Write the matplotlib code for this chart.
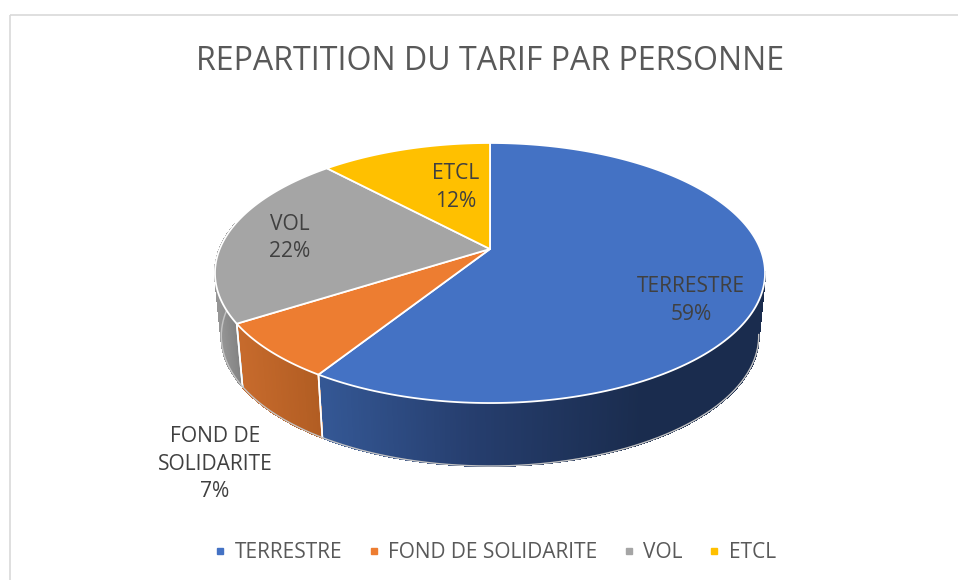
import matplotlib
matplotlib.use('Agg')
import matplotlib.pyplot as plt
import numpy as np
from matplotlib.lines import Line2D
from matplotlib.patches import Rectangle

categories = ['TERRESTRE', 'FOND DE SOLIDARITE', 'VOL', 'ETCL']
values = [59, 7, 22, 12]
label_text = ['TERRESTRE', 'FOND DE\nSOLIDARITE', 'VOL', 'ETCL']
title = 'REPARTITION DU TARIF PAR PERSONNE'

colors = ['#4472C4', '#ED7D31', '#A5A5A5', '#FFC000']
label_pos = [(691, 300.5), (215, 464), (289.5, 238), (456, 187.5)]
# couleur du flanc : (x, rgb) de gauche a droite
side_ramps = [
    ([325, 470, 640], [(52, 87, 148), (38, 62, 110), (26, 44, 78)]),
    ([243, 324], [(198, 106, 44), (176, 92, 34)]),
    ([216, 243], [(152, 152, 152), (126, 126, 126)]),
    ([0, 958], [(180, 135, 0), (180, 135, 0)]),
]

plt.rcParams['font.family'] = ['Open Sans', 'DejaVu Sans']

# camembert vu en perspective
cx, cy = 490, 249
rx, ry, k = 270.3, 125.6, 0.1846
depth = 63
shrink = 0.977


def rim(t, low=False):
    # t en radians, sens horaire depuis midi
    px, py = np.sin(t), np.cos(t)
    w = 1 + k * py
    sx = shrink if low else 1
    x = cx + sx * rx * px / w
    y = cy - ry * py / w + (depth if low else 0)
    return x, y


fig = plt.figure(figsize=(9.58, 5.8), dpi=100)
ax = fig.add_axes([0, 0, 1, 1])
ax.set_xlim(0, 958)
ax.set_ylim(580, 0)
ax.axis('off')

ax.add_patch(Rectangle((10, 14.5), 1000, 600, fc='none', ec='#D9D9D9', lw=1.2))

fractions = np.array(values) / sum(values)
edges = np.concatenate([[0], np.cumsum(fractions)]) * 2 * np.pi

# flancs
vis_a, vis_b = np.radians(100), np.radians(282)
for i in range(len(values)):
    a, b = max(edges[i], vis_a), min(edges[i + 1], vis_b)
    if a >= b:
        continue
    ts = np.linspace(a, b, int((b - a) * 120) + 2)
    xs_r, rgb = side_ramps[i]
    for t0, t1 in zip(ts[:-1], ts[1:]):
        x0, y0 = rim(t0)
        x1, y1 = rim(t1)
        x2, y2 = rim(t1, True)
        x3, y3 = rim(t0, True)
        xm = (x0 + x1 + x2 + x3) / 4
        c = [np.interp(xm, xs_r, [p[j] for p in rgb]) / 255 for j in range(3)]
        ax.fill([x0, x1, x2, x3], [y0, y1, y2, y3], fc=c, ec=c, lw=0.8,
                antialiased=False, zorder=1)
    for t in [edges[i], edges[i + 1]]:
        if vis_a < t < vis_b:
            xa, ya = rim(t)
            xb, yb = rim(t, True)
            ax.plot([xa, xb], [ya, yb], color='white', lw=1.2, zorder=1.5)

ts = np.linspace(vis_a, vis_b, 300)
ax.plot(*rim(ts, True), color='#C4C4C4', lw=1.0, zorder=1.5)

# dessus
for i in range(len(values)):
    ts = np.linspace(edges[i], edges[i + 1], 200)
    xs, ys = rim(ts)
    ax.fill(np.r_[cx, xs], np.r_[cy, ys], fc=colors[i], ec='white', lw=1.3,
            joinstyle='round', zorder=3)

ax.text(490, 62, title, ha='center', va='center', fontsize=23.1, color='#595959')

for txt, v, pos in zip(label_text, values, label_pos):
    ax.text(pos[0], pos[1], '%s\n%d%%' % (txt, v), ha='center', va='center',
            fontsize=15.1, color='#404040', linespacing=1.42, zorder=4)

handles = [Line2D([], [], ls='none', marker='s', ms=4.8, color=c, label=n)
           for c, n in zip(colors, categories)]
ax.legend(handles=handles, ncol=4, loc='center', bbox_to_anchor=(490.6, 553),
          bbox_transform=ax.transData, frameon=False, fontsize=15.0,
          labelcolor='#595959', handletextpad=0.0, columnspacing=0.8,
          handlelength=1.4, borderpad=0)

fig.savefig('out.png', dpi=100)
